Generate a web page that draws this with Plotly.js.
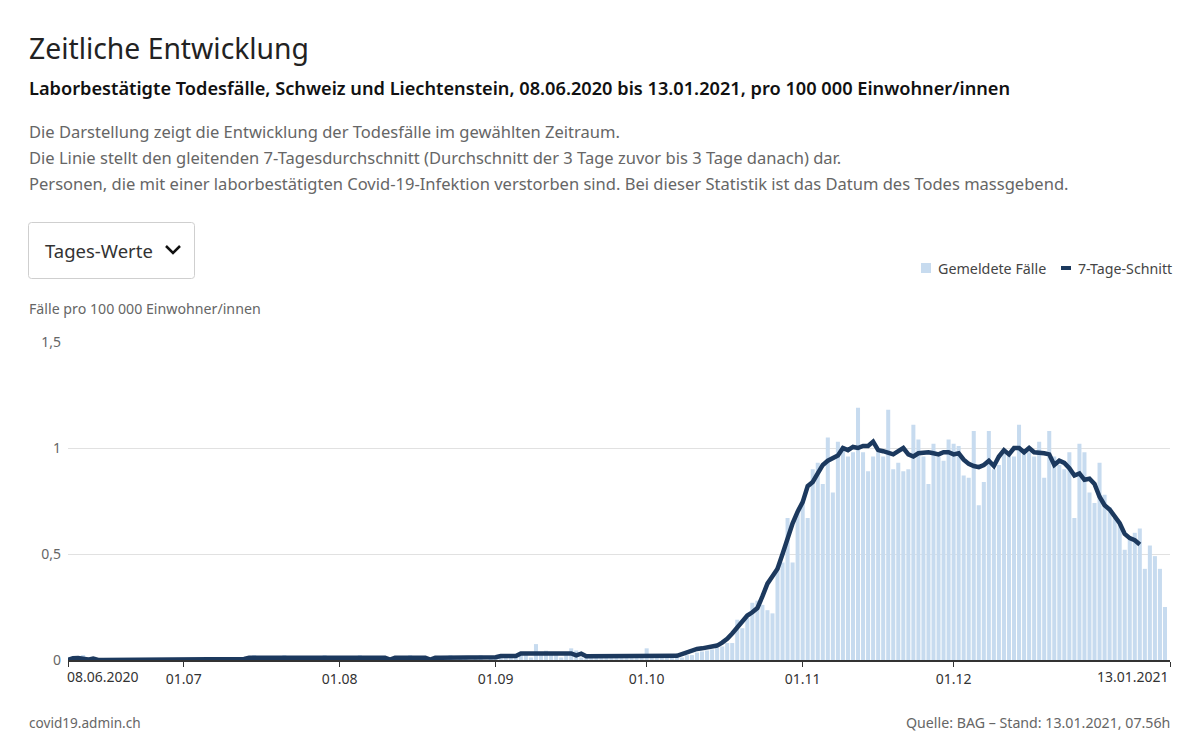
<!DOCTYPE html>
<html>
<head>
<meta charset="utf-8">
<script src="https://cdn.plot.ly/plotly-3.0.1.min.js"></script>
<style>
  html, body { margin: 0; padding: 0; background: #fff; }
  #chart { width: 1200px; height: 743px; }
</style>
</head>
<body>
<div id="chart"></div>
<script>
// ---- Data (per 100 000 inhabitants), daily from 08.06.2020 ----
const startDate = '2020-06-08';
const endDate = '2021-01-13';

// Reported deaths per day (bars), 08.06.2020 .. 12.01.2021
const gemeldeteFaelle = [
  0.012,0.012,0,0.023,0,0.012,0,0,0,0,
  0,0,0,0,0,0,0,0,0,0,
  0,0,0,0,0,0,0,0,0,0,
  0.012,0,0,0,0,0,0.012,0.023,0,0.012,
  0.012,0,0.012,0.023,0,0.012,0,0.012,0.012,0,
  0.012,0.023,0,0.012,0,0.012,0.012,0,0.023,0.012,
  0,0.012,0.012,0.012,0,0,0.012,0.012,0.023,0,
  0.012,0.012,0,0,0.012,0.012,0.023,0,0.012,0.012,
  0,0.012,0.023,0,0.012,0.012,0.023,0.023,0.012,0.023,
  0.023,0.023,0.012,0.075,0.023,0.044,0.03,0.023,0.012,0.023,
  0.055,0.045,0.012,0.012,0.023,0.012,0.023,0.012,0.023,0.012,
  0.023,0.012,0.012,0.023,0.012,0.055,0.012,0.023,0.012,0.023,
  0.012,0.023,0.012,0.023,0.023,0.035,0.04,0.045,0.05,0.057,
  0.064,0.08,0.08,0.19,0.15,0.20,0.27,0.28,0.26,0.235,
  0.22,0.44,0.46,0.67,0.46,0.70,0.74,0.67,0.90,0.93,
  0.83,1.05,0.79,1.03,1.01,0.96,0.98,1.19,0.98,0.89,
  0.96,0.98,0.96,1.18,0.90,0.93,0.89,0.90,1.11,1.04,
  0.96,0.83,1.02,0.96,0.94,1.04,1.02,1.01,0.87,0.86,
  1.08,0.73,0.84,1.08,0.90,0.92,0.99,0.97,0.96,1.11,
  0.98,0.98,0.96,1.03,0.86,1.08,0.96,0.92,0.90,0.98,
  0.67,1.02,0.98,0.79,0.74,0.93,0.78,0.72,0.67,0.64,
  0.52,0.57,0.60,0.62,0.43,0.54,0.49,0.43,0.25
];

// 7-day centred moving average, 08.06.2020 .. 07.01.2021
const siebenTageSchnitt = [
  0.0,0.008,0.009,0.008,0.002,0.007,0,0,0,0,
  0,0,0,0,0,0,0,0,0,0,
  0,0,0,0,0,0,0,0,0,0,
  0,0,0,0,0,0.005,0.011,0.011,0.011,0.011,
  0.011,0.011,0.011,0.011,0.011,0.011,0.011,0.011,0.011,0.011,
  0.011,0.011,0.011,0.011,0.011,0.011,0.011,0.011,0.011,0.011,
  0.011,0.011,0.011,0.011,0.002,0.011,0.011,0.011,0.011,0.011,
  0.011,0.011,0.002,0.011,0.011,0.011,0.011,0.011,0.011,0.011,
  0.011,0.011,0.011,0.011,0.011,0.013,0.019,0.019,0.019,0.019,
  0.031,0.031,0.031,0.031,0.031,0.031,0.031,0.031,0.031,0.031,
  0.031,0.022,0.030,0.018,0.018,0.018,0.018,0.018,0.018,0.018,
  0.018,0.018,0.018,0.018,0.018,0.018,0.018,0.018,0.018,0.018,
  0.018,0.020,0.028,0.036,0.045,0.052,0.055,0.058,0.062,0.068,
  0.082,0.10,0.125,0.155,0.185,0.21,0.225,0.245,0.30,0.36,
  0.395,0.43,0.50,0.58,0.645,0.70,0.745,0.82,0.84,0.88,
  0.92,0.94,0.955,0.965,1.0,0.99,1.005,1.0,1.01,1.01,
  1.03,0.99,0.985,0.98,0.97,0.985,1.0,0.97,0.96,0.975,
  0.98,0.98,0.975,0.97,0.98,0.98,0.97,0.975,0.945,0.925,
  0.915,0.91,0.92,0.94,0.915,0.96,0.99,0.97,1.0,1.0,
  0.98,1.0,0.98,0.98,0.975,0.97,0.92,0.94,0.93,0.905,
  0.87,0.88,0.85,0.855,0.83,0.77,0.73,0.71,0.68,0.645,
  0.595,0.575,0.565,0.545
];

const xTickVals = ['2020-06-08','2020-07-01','2020-08-01','2020-09-01','2020-10-01','2020-11-01','2020-12-01','2021-01-13'];
const xTickText = ['', '01.07', '01.08', '01.09', '01.10', '01.11', '01.12', ''];
const yTickVals = [0, 0.5, 1, 1.5];
const yTickText = ['0', '0,5', '1', '1,5'];

// ---- Build consecutive dates ----
function datesFrom(start, n) {
  const out = [];
  const d0 = new Date(start + 'T00:00:00Z');
  for (let i = 0; i < n; i++) {
    const d = new Date(d0.getTime() + i * 86400000);
    out.push(d.toISOString().slice(0, 10));
  }
  return out;
}
const barDates = datesFrom(startDate, gemeldeteFaelle.length);
const lineDates = datesFrom(startDate, siebenTageSchnitt.length);

const FONT = '"Noto Sans", "Open Sans", sans-serif';
const BAR_COLOR = '#c7dbef';
const LINE_COLOR = '#1c395e';

// plot area in pixels
const L = 68, R = 1170, T = 342, B = 660;
const W = 1200, H = 743;
const px = x => (x - L) / (R - L);
const py = y => (B - y) / (B - T);

function ann(text, x, y, size, color, opts, weight) {
  return Object.assign({
    text: text, x: px(x), y: py(y), xref: 'paper', yref: 'paper',
    xanchor: 'left', yanchor: 'middle', showarrow: false,
    font: { family: FONT, size: size, color: color, weight: weight || 400 }
  }, opts || {});
}

const traces = [
  {
    type: 'bar', name: 'Gemeldete Fälle', x: barDates, y: gemeldeteFaelle,
    marker: { color: BAR_COLOR }, hoverinfo: 'x+y'
  },
  {
    type: 'scatter', mode: 'lines', name: '7-Tage-Schnitt', x: lineDates, y: siebenTageSchnitt,
    line: { color: LINE_COLOR, width: 4.5, shape: 'linear' }, hoverinfo: 'x+y'
  }
];

const layout = {
  width: W, height: H,
  margin: { l: L, r: W - R, t: T, b: H - B, pad: 0 },
  paper_bgcolor: '#ffffff', plot_bgcolor: '#ffffff',
  showlegend: false,
  bargap: 0.2,
  font: { family: FONT, size: 14, color: '#333' },
  xaxis: {
    type: 'date',
    range: [startDate, endDate],
    tickvals: xTickVals, ticktext: xTickText,
    tickfont: { family: FONT, size: 14, color: '#333' },
    ticks: 'outside', ticklen: 5, tickcolor: '#333', tickwidth: 1,
    showline: true, linecolor: '#333', linewidth: 2,
    showgrid: false, zeroline: false, fixedrange: true
  },
  yaxis: {
    range: [0, 1.5],
    tickvals: yTickVals, ticktext: yTickText,
    tickfont: { family: FONT, size: 14, color: '#666' },
    ticklabelstandoff: 6,
    showgrid: true, gridcolor: '#e1e1e1', gridwidth: 1,
    zeroline: false, showline: false, fixedrange: true
  },
  shapes: [
    // dropdown box
    { type: 'path', xref: 'paper', yref: 'paper',
      path: roundRect(28.5, 222.5, 194.5, 278.5, 3),
      line: { color: '#cfcfcf', width: 1 }, fillcolor: 'rgba(0,0,0,0)' },
    // chevron
    { type: 'path', xref: 'paper', yref: 'paper',
      path: `M ${px(166)} ${py(246)} L ${px(173)} ${py(253)} L ${px(180)} ${py(246)}`,
      line: { color: '#111', width: 2.5 } },
    // legend square
    { type: 'rect', xref: 'paper', yref: 'paper',
      x0: px(921), x1: px(931), y0: py(273), y1: py(263),
      fillcolor: BAR_COLOR, line: { width: 0 } },
    // legend dash
    { type: 'line', xref: 'paper', yref: 'paper',
      x0: px(1061), x1: px(1071), y0: py(268), y1: py(268),
      line: { color: LINE_COLOR, width: 4 } }
  ],
  annotations: [
    ann('Zeitliche Entwicklung', 27, 48, 28.3, '#222'),
    ann('Laborbestätigte Todesfälle, Schweiz und Liechtenstein, 08.06.2020 bis 13.01.2021, pro 100 000 Einwohner/innen', 27, 88, 18.2, '#111', null, 600),
    ann('Die Darstellung zeigt die Entwicklung der Todesfälle im gewählten Zeitraum.', 27, 131, 16.55, '#666'),
    ann('Die Linie stellt den gleitenden 7-Tagesdurchschnitt (Durchschnitt der 3 Tage zuvor bis 3 Tage danach) dar.', 27, 157, 16.55, '#666'),
    ann('Personen, die mit einer laborbestätigten Covid-19-Infektion verstorben sind. Bei dieser Statistik ist das Datum des Todes massgebend.', 27, 183, 16.55, '#666'),
    ann('Tages-Werte', 43, 250, 18.5, '#333'),
    ann('Gemeldete Fälle', 936, 268, 14.3, '#444'),
    ann('7-Tage-Schnitt', 1076, 268, 14.2, '#444'),
    ann('Fälle pro 100 000 Einwohner/innen', 27, 308, 14.2, '#666'),
    ann('08.06.2020', 65, 676, 14, '#333'),
    ann('13.01.2021', 1171, 676, 14, '#333', { xanchor: 'right' }),
    ann('covid19.admin.ch', 27, 722, 13.6, '#666'),
    ann('Quelle: BAG – Stand: 13.01.2021, 07.56h', 1172, 722, 14.2, '#666', { xanchor: 'right' })
  ]
};

function roundRect(x0, y0, x1, y1, r) {
  const X = v => px(v), Y = v => py(v);
  return `M ${X(x0 + r)} ${Y(y0)} L ${X(x1 - r)} ${Y(y0)} Q ${X(x1)} ${Y(y0)} ${X(x1)} ${Y(y0 + r)} ` +
         `L ${X(x1)} ${Y(y1 - r)} Q ${X(x1)} ${Y(y1)} ${X(x1 - r)} ${Y(y1)} ` +
         `L ${X(x0 + r)} ${Y(y1)} Q ${X(x0)} ${Y(y1)} ${X(x0)} ${Y(y1 - r)} ` +
         `L ${X(x0)} ${Y(y0 + r)} Q ${X(x0)} ${Y(y0)} ${X(x0 + r)} ${Y(y0)} Z`;
}

Plotly.newPlot('chart', traces, layout, { displayModeBar: false, staticPlot: true });
</script>
</body>
</html>
